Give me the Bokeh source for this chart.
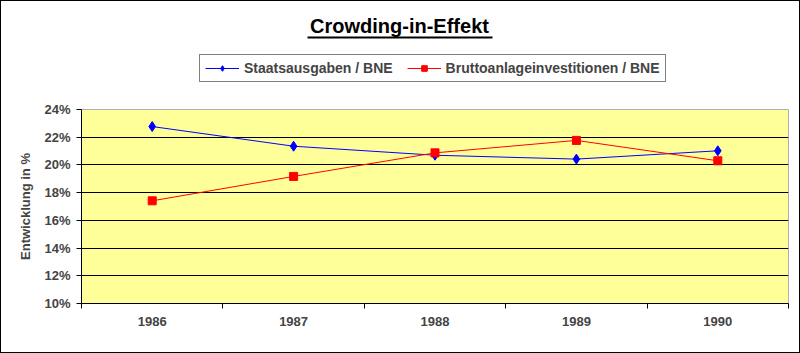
import numpy as np
from bokeh.plotting import figure
from bokeh.layouts import column
from bokeh.models import (Range1d, FixedTicker, NumeralTickFormatter, Legend, LegendItem,
                          Label, BoxAnnotation)
from bokeh.embed import file_html
from bokeh.resources import INLINE

# ---- data ----
years = ["1986", "1987", "1988", "1989", "1990"]
staatsausgaben = [0.2277, 0.2135, 0.2070, 0.2042, 0.2102]
bruttoanlage = [0.1741, 0.1917, 0.2087, 0.2177, 0.2030]
y_ticks = [0.10, 0.12, 0.14, 0.16, 0.18, 0.20, 0.22, 0.24]
title_text = "Crowding-in-Effekt"
y_label = "Entwicklung in %"
series_names = ["Staatsausgaben / BNE", "Bruttoanlageinvestitionen / BNE"]

FONT = "Liberation Sans"
BLUE = "#0000FF"
RED = "#FF0000"
xs = np.arange(len(years)) + 0.5

# ---- header (title + legend); its frame is aligned with the chart frame (x 81..788) ----
h = figure(width=798, height=90, output_backend="svg", toolbar_location=None,
           x_range=Range1d(0, 1), y_range=Range1d(0, 1),
           x_axis_type=None, y_axis_type=None,
           min_border_left=80, min_border_right=11, min_border_top=0, min_border_bottom=0,
           background_fill_color="white", border_fill_color="white",
           outline_line_color=None)
# legend swatches only (points lie outside the visible range)
d1 = h.line(x=[-5, -4], y=[-5, -4], line_color=BLUE, line_width=1)
e1 = h.scatter(x=[-5], y=[-5], marker="diamond", size=10, fill_color=BLUE, line_color=BLUE)
d2 = h.line(x=[-5, -4], y=[-5, -4], line_color=RED, line_width=1)
e2 = h.scatter(x=[-5], y=[-5], marker="square", size=8, fill_color=RED, line_color=RED)
legend = Legend(items=[LegendItem(label=series_names[0], renderers=[d1, e1]),
                       LegendItem(label=series_names[1], renderers=[d2, e2])],
                orientation="horizontal", location=(118, 9),
                border_line_color="black", border_line_width=1,
                background_fill_color="white", background_fill_alpha=1,
                label_text_font=FONT, label_text_font_style="bold", label_text_font_size="14px",
                glyph_width=34, glyph_height=14, label_standoff=5, spacing=14, padding=5, margin=0)
h.add_layout(legend, "center")
h.add_layout(Label(x=318, y=66, x_units="screen", y_units="screen", text=title_text,
                   text_align="center", text_baseline="middle", text_font=FONT,
                   text_font_style="bold", text_font_size="20px", text_color="black"))
h.add_layout(BoxAnnotation(left=226, right=411, bottom=53, top=55,
                           left_units="screen", right_units="screen",
                           bottom_units="screen", top_units="screen",
                           fill_color="black", fill_alpha=1, line_alpha=0))

# ---- main chart ----
p = figure(width=798, height=261, output_backend="svg", toolbar_location=None,
           x_range=Range1d(0, len(years)), y_range=Range1d(y_ticks[0], y_ticks[-1]),
           min_border_left=80, min_border_right=11, min_border_top=18, min_border_bottom=49,
           background_fill_color="#FFFF99", border_fill_color="white",
           outline_line_color="#b0b0b0", outline_line_width=1)

yax = p.yaxis[0]
yax.ticker = FixedTicker(ticks=y_ticks, minor_ticks=[])
yax.formatter = NumeralTickFormatter(format="0%")
yax.axis_line_color = "black"
yax.major_tick_line_color = "black"
yax.major_tick_out = 5
yax.major_tick_in = 0
yax.minor_tick_line_color = None
yax.major_label_text_font = FONT
yax.major_label_text_font_style = "bold"
yax.major_label_text_font_size = "13px"
yax.major_label_standoff = 6
yax.axis_label = y_label
yax.axis_label_text_font = FONT
yax.axis_label_text_font_style = "bold"
yax.axis_label_text_font_size = "13px"
yax.axis_label_standoff = 8

xax = p.xaxis[0]
boundaries = list(np.arange(len(years) + 1).astype(float))
xax.ticker = FixedTicker(ticks=list(xs), minor_ticks=boundaries)
xax.major_label_overrides = {float(x): y for x, y in zip(xs, years)}
xax.axis_line_color = "black"
xax.major_tick_line_color = None
xax.major_tick_out = 0
xax.major_tick_in = 0
xax.minor_tick_line_color = "black"
xax.minor_tick_out = 5
xax.minor_tick_in = 0
xax.major_label_text_font = FONT
xax.major_label_text_font_style = "bold"
xax.major_label_text_font_size = "13px"
xax.major_label_standoff = 8

p.xgrid.grid_line_color = None
p.ygrid.ticker = FixedTicker(ticks=y_ticks[1:-1])
p.ygrid.grid_line_color = "black"
p.ygrid.grid_line_width = 1

p.line(xs, staatsausgaben, line_color=BLUE, line_width=1)
p.scatter(xs, staatsausgaben, marker="diamond", size=10, fill_color=BLUE, line_color=BLUE)
p.line(xs, bruttoanlage, line_color=RED, line_width=1)
p.scatter(xs, bruttoanlage, marker="square", size=8, fill_color=RED, line_color=RED)

layout = column(h, p, spacing=0, styles={"border": "1px solid black"})

open("out.html", "w").write(file_html(layout, INLINE))
